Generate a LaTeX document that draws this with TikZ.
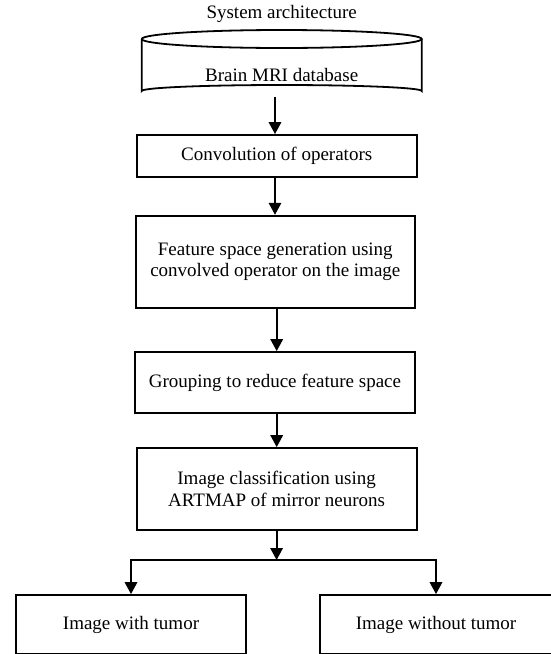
\documentclass[tikz,border=0pt]{standalone}
\usepackage{fontspec}
\setmainfont{Liberation Serif}
\usetikzlibrary{arrows.meta}
\begin{document}
\begin{tikzpicture}[x=1pt,y=-1pt,
  every node/.style={font=\fontsize{19}{21.7}\selectfont},
  stepbox/.style={draw,line width=1.8pt,inner sep=0pt,align=center},
  conn/.style={line width=1.8pt,-{Triangle[length=12pt,width=12.5pt]}},
  plainline/.style={line width=1.8pt}]
\useasboundingbox (0,0) rectangle (551,654);
\node (title) at (281.7,13.5) {System architecture};
% cylinder
\draw[line width=1.8pt] (141.7,39) arc[start angle=180,end angle=-180,x radius=140,y radius=9];
\draw[line width=1.8pt] (141.7,39) -- (141.7,91)
  arc[start angle=180,end angle=360,x radius=140,y radius=6] -- (421.7,39);
\node (db) at (281.7,75) {Brain MRI database};
\coordinate (dbbot) at (275,97);
\coordinate (colb) at (276.7,0);
\node[stepbox,minimum width=280pt,minimum height=41.7pt] (b1) at (276.7,155.8) {Convolution of operators};
\node[stepbox,minimum width=279.3pt,minimum height=92pt] (b2) at (275.3,261.7) {Feature space generation using\\convolved operator on the image};
\node[stepbox,minimum width=280pt,minimum height=61pt] (b3) at (275,382.5) {Grouping to reduce feature space};
\node[stepbox,minimum width=280pt,minimum height=82pt] (b4) at (276.6,489) {Image classification using\\ARTMAP of mirror neurons};
\node[stepbox,minimum width=230pt,minimum height=59pt] (b5) at (131,624.5) {Image with tumor};
\node[stepbox,minimum width=232pt,minimum height=59pt] (b6) at (436,624.5) {Image without tumor};
\coordinate (br) at (276.6,560);
\draw[conn] (dbbot) -- (dbbot |- b1.north);
\draw[conn] (b1.south -| dbbot) -- (b2.north -| dbbot);
\draw[conn] (b2.south -| colb) -- (b3.north -| colb);
\draw[conn] (b3.south -| colb) -- (b4.north -| colb);
\draw[conn] (b4.south) -- (br);
\draw[plainline] ([xshift=-0.9pt]b5.north |- br) -- ([xshift=0.9pt]b6.north |- br);
\draw[conn] (b5.north |- br) -- (b5.north);
\draw[conn] (b6.north |- br) -- (b6.north);
\end{tikzpicture}
\end{document}
